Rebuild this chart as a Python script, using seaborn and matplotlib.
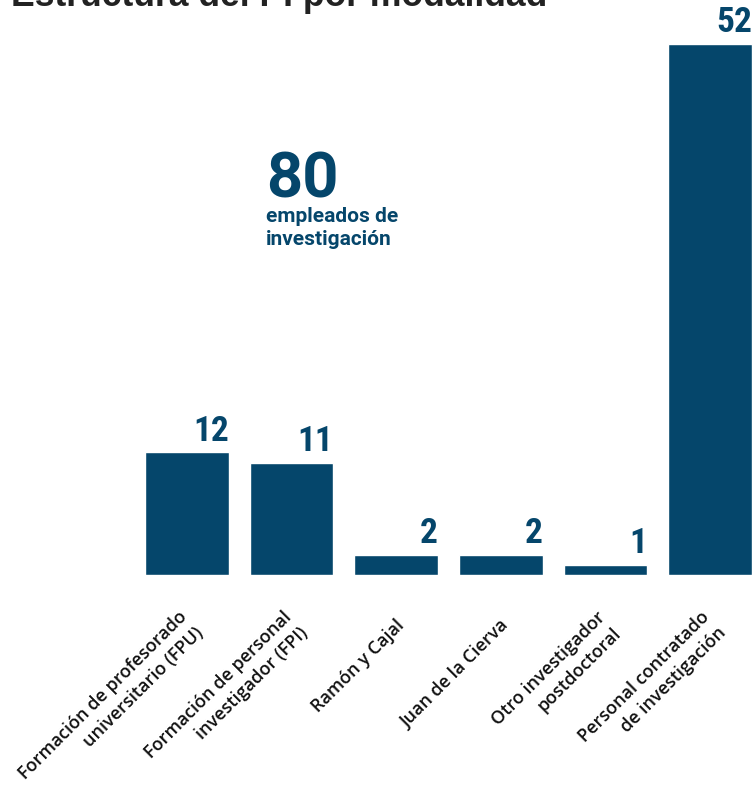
import matplotlib
matplotlib.use("Agg")
import matplotlib.pyplot as plt
import seaborn as sns
import pandas as pd
import os
from matplotlib import font_manager
from matplotlib.font_manager import FontProperties
from matplotlib.transforms import ScaledTranslation

categories = [
    "Formación de profesorado\nuniversitario (FPU)",
    "Formación de personal\ninvestigador (FPI)",
    "Ramón y Cajal",
    "Juan de la Cierva",
    "Otro investigador\npostdoctoral",
    "Personal contratado\nde investigación",
]
values = [12, 11, 2, 2, 1, 52]
total_value = "80"
total_label = ["empleados de", "investigación"]
title = "Estructura del PI por modalidad"

BLUE = "#05466b"

sns.set_theme(style="white")
plt.rcParams["font.family"] = ["Open Sans", "DejaVu Sans"]


def pick_narrow_bold():
    files = {os.path.basename(f.fname).lower(): f.fname for f in font_manager.fontManager.ttflist}
    prefs = ["liberationsansnarrow-bold.ttf", "robotocondensed-bold.ttf",
             "notosans-condensedbold.ttf", "opensans-condensedbold.ttf",
             "notosans-semicondensedbold.ttf"]
    for p in prefs:
        if p in files:
            return FontProperties(fname=files[p])
    for name, path in files.items():
        if ("narrow" in name or "condensed" in name) and "bold" in name and "dejavu" not in name \
                and "extra" not in name and "semibold" not in name and "italic" not in name:
            return FontProperties(fname=path)
    return FontProperties(family=["Roboto", "DejaVu Sans"], weight="bold")


num_fp = pick_narrow_bold()
num_fp.set_size(25.5)

df = pd.DataFrame({"cat": categories, "val": values})

fig = plt.figure(figsize=(7.55, 7.85), dpi=100)
W, H = 755, 785
ax = fig.add_axes([134.7 / W, 210 / H, (754 - 134.7) / W, 571.8 / H])

sns.barplot(data=df, x="cat", y="val", color=BLUE, saturation=1, width=0.8, ax=ax)
ax.set_xlim(-0.5, 5.42)
ax.set_ylim(0, 56)
for s in ax.spines.values():
    s.set_visible(False)
ax.set_yticks([])
ax.set_xlabel("")
ax.set_ylabel("")
ax.tick_params(axis="x", length=0, pad=34)
off = ScaledTranslation(5 / 100, 0, fig.dpi_scale_trans)
for lab in ax.get_xticklabels():
    lab.set_rotation(45)
    lab.set_ha("right")
    lab.set_va("center")
    lab.set_rotation_mode("anchor")
    lab.set_multialignment("right")
    lab.set_fontsize(13)
    lab.set_fontweight("semibold")
    lab.set_linespacing(1.35)
    lab.set_color("#111111")
    lab.set_transform(lab.get_transform() + off)

for i, v in enumerate(values):
    ax.annotate(str(v), xy=(i + 0.4, v), xytext=(0, 3.5), textcoords="offset points",
                ha="right", va="bottom", fontproperties=num_fp, color=BLUE)

fig.text(266 / W, 1 - 198 / H, total_value, ha="left", va="baseline",
         fontsize=45.5, fontweight="bold", color=BLUE, family=["Roboto", "DejaVu Sans"])
fig.text(266 / W, 1 - 222 / H, total_label[0], ha="left", va="baseline",
         fontsize=15, fontweight="bold", color=BLUE, family=["Roboto", "DejaVu Sans"])
fig.text(266 / W, 1 - 245 / H, total_label[1], ha="left", va="baseline",
         fontsize=15, fontweight="bold", color=BLUE, family=["Roboto", "DejaVu Sans"])

fig.text(11 / W, 1 - 6 / H, title, ha="left", va="baseline", fontsize=25.6,
         fontweight="bold", color="#222222", family=["Liberation Sans", "DejaVu Sans"])

fig.savefig("out.png", dpi=100)
